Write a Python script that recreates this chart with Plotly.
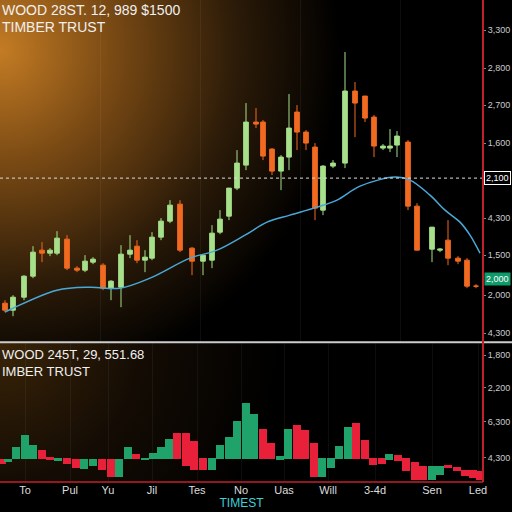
import base64
import plotly.graph_objects as go
from plotly.subplots import make_subplots

# ---- candle data (day position, open, close, high, low) ----
days   = [5,13,24,33,42,50,57,67,77,85,93,103,111,121,130,137,145,152,161,170,180,192,203,212,220,229,237,246,256,263,272,281,289,297,306,315,323,333,345,355,365,374,383,390,397,408,417,432,440,448,458,467,476]
opens  = [37,30,43,64,90,87,87,101,72,70,78,75,52,53,86,94,80,82,103,119,136,92,79,80,108,124,152,175,218,218,191,169,183,228,208,193,130,174,177,249,244,223,192,192,195,198,134,91,90,100,82,80,54]
closes = [30,43,64,88,87,90,102,72,70,79,81,52,59,86,90,80,83,103,119,135,90,79,85,107,121,152,177,218,216,184,169,183,212,208,197,132,174,177,249,237,222,194,194,194,204,134,90,113,91,82,79,54,54]
highs  = [40,45,65,94,98,92,109,105,74,85,83,77,60,95,105,100,90,108,122,140,140,93,85,115,130,140,190,237,232,220,192,185,246,235,210,197,175,180,288,258,240,225,196,211,209,200,137,92,92,120,84,82,56]
lows   = [28,24,40,62,78,84,85,70,68,68,76,50,40,33,82,77,68,80,100,117,88,65,65,72,106,120,150,170,212,180,165,150,170,190,190,120,125,172,172,203,218,183,190,188,183,130,96,78,88,75,76,52,52]

ma_days = [5,13,57,90,120,150,190,217,245,267,290,317,337,360,395,410,430,445,460,470,480]
ma_vals = [28,32,50,53,52,62,82,90,105,118,125,133,140,154,163,160,145,130,118,105,87]

# ---- histogram (day, top level, bottom level) ----
h_days = [2,8,16,25,33,42,50,58,67,76,84,93,102,111,119,128,136,145,153,161,169,177,186,194,203,212,220,229,237,246,254,263,271,280,288,297,305,314,322,331,339,348,356,365,373,382,389,398,406,415,423,432,440,448,457,465,473,480]
h_top  = [0,0,36,73,43,28,6,3,3,0,0,0,0,0,0,38,16,3,18,36,61,78,78,55,3,3,43,68,116,168,136,90,48,10,90,103,88,50,3,3,40,98,108,58,3,3,15,13,3,-10,-22,-22,-20,-17,-25,-32,-34,-37]
h_bot  = [-14,-10,0,0,0,0,-4,-5,-14,-27,-30,-20,-34,-54,-54,0,0,-4,0,0,0,0,-20,-34,-34,-34,0,0,0,0,0,0,0,-2,0,0,0,-54,-54,-27,0,0,0,0,-17,-14,-4,-7,-37,-62,-62,-62,-47,-27,-37,-52,-57,-62]
h_col  = ['r','g','g','g','g','r','r','g','r','r','g','g','r','r','g','g','r','g','g','g','g','r','r','r','r','g','g','g','g','g','g','r','r','g','g','r','r','r','g','g','g','g','r','r','r','r','g','r','r','r','r','g','g','r','r','r','r','r']

top_tick_vals = [310,272,235,197,122,85,45,7]
top_tick_text = ["3,300","2,800","2,700","1,600","4,300","1,500","2,000","4,300"]
bot_tick_vals = [313,215,113,6]
bot_tick_text = ["1,800","2,200","6,300","4,300"]
x_tick_vals = [25,70,108,152,197,241,284,328,375,432,478]
x_tick_text = ["To","Pul","Yu","Jil","Tes","No","Uas","Will","3-4d","Sen","Led"]

svg = '''<svg xmlns="http://www.w3.org/2000/svg" width="483" height="482" preserveAspectRatio="none">
<defs>
<radialGradient id="g" cx="0" cy="50" r="400" gradientUnits="userSpaceOnUse">
<stop offset="0" stop-color="#c47c24"/><stop offset="0.28" stop-color="#7a4a14"/>
<stop offset="0.6" stop-color="#2a1a08"/><stop offset="0.85" stop-color="#000000"/></radialGradient>
<radialGradient id="h" cx="0" cy="342" r="280" gradientUnits="userSpaceOnUse">
<stop offset="0" stop-color="#3a2408"/><stop offset="0.5" stop-color="#140c04"/><stop offset="1" stop-color="#000000"/></radialGradient>
</defs>
<rect width="483" height="482" fill="#000"/>
<rect x="0" y="0" width="483" height="342" fill="url(#g)"/>
<rect x="0" y="342" width="483" height="140" fill="url(#h)"/>
</svg>'''
src = 'data:image/svg+xml;base64,' + base64.b64encode(svg.encode()).decode()

fig = make_subplots(rows=2, cols=1, shared_xaxes=True, vertical_spacing=0,
                    row_heights=[0.71, 0.29])

fig.add_trace(go.Candlestick(x=days, open=opens, close=closes, high=highs, low=lows,
                             increasing=dict(line=dict(color='#a6e08a', width=1), fillcolor='#a6e08a'),
                             decreasing=dict(line=dict(color='#f26a21', width=1), fillcolor='#f26a21'),
                             whiskerwidth=0, showlegend=False), row=1, col=1)
fig.add_trace(go.Scatter(x=ma_days, y=ma_vals, mode='lines', line=dict(color='#4aa8d8', width=1.5, shape='spline'),
                         showlegend=False), row=1, col=1)

colors = ['#1fa36a' if c == 'g' else '#e8203a' for c in h_col]
fig.add_trace(go.Bar(x=h_days, y=[t - b for t, b in zip(h_top, h_bot)], base=h_bot, marker_color=colors,
                     marker_line_width=0, width=8.4, showlegend=False), row=2, col=1)

ax = dict(showgrid=True, gridcolor='rgba(255,255,255,0.05)', zeroline=False, range=[0, 483], showline=False)
fig.update_xaxes(**ax, showticklabels=False, row=1, col=1)
fig.update_xaxes(**ax, tickvals=x_tick_vals, ticktext=x_tick_text, ticks='', row=2, col=1,
                 tickfont=dict(color='#dddddd', size=11),
                 title=dict(text='TIMEST', font=dict(color='#3fd0d8', size=12), standoff=0))
fig.update_xaxes(rangeslider_visible=False)
yax = dict(side='right', showgrid=False, zeroline=False, tickfont=dict(color='#cccccc', size=9),
           ticks='outside', ticklen=2, tickcolor='#888')
fig.update_yaxes(**yax, range=[-2, 340], tickvals=top_tick_vals, ticktext=top_tick_text, row=1, col=1)
fig.update_yaxes(**yax, range=[-68, 352], tickvals=bot_tick_vals, ticktext=bot_tick_text, row=2, col=1)

fig.add_hline(y=162, line=dict(color='#dddddd', width=1, dash='dot'), row=1, col=1)
fig.add_shape(type='line', xref='paper', yref='paper', x0=0, x1=1.07, y0=0.29, y1=0.29,
              line=dict(color='#cccccc', width=2))
fig.add_shape(type='line', xref='paper', yref='paper', x0=1, x1=1, y0=0, y1=1,
              line=dict(color='#c0202a', width=2))
fig.add_shape(type='line', xref='paper', yref='paper', x0=0, x1=1, y0=0, y1=0,
              line=dict(color='#c0202a', width=1.5))

ann = [
    (1.0, 'WOOD 28ST. 12, 989 $1500', 14),
    (0.965, 'TIMBER TRUST', 14),
    (0.285, 'WOOD 245T, 29, 551.68', 13),
    (0.25, 'IMBER TRUST', 13),
]
for y, t, s in ann:
    fig.add_annotation(xref='paper', yref='paper', x=0, y=y, text=t, showarrow=False,
                       xanchor='left', yanchor='top', font=dict(family='Liberation Sans', color='#f0f0f0', size=s))
fig.add_annotation(xref='paper', yref='y', x=1.003, y=162, text='2,100', showarrow=False, xanchor='left',
                   font=dict(color='#ffffff', size=9), bordercolor='#ffffff', borderwidth=1, bgcolor='#000000', borderpad=1)
fig.add_annotation(xref='paper', yref='y', x=1.003, y=61, text='2,000', showarrow=False, xanchor='left',
                   font=dict(color='#ffffff', size=9), bgcolor='#0f9a6a', borderpad=1)

fig.add_layout_image(source=src, xref='paper', yref='paper', x=0, y=1, sizex=1, sizey=1,
                     xanchor='left', yanchor='top', sizing='stretch', layer='below')

fig.update_layout(width=512, height=512, margin=dict(l=0, r=29, t=0, b=30),
                  paper_bgcolor='#000000', plot_bgcolor='rgba(0,0,0,0)', bargap=0, boxgap=0.05,
                  font=dict(family='Liberation Sans'))
fig.write_html('out.html', config={'displayModeBar': False},
               post_script="document.body.style.margin='0';document.body.style.background='#000';")
